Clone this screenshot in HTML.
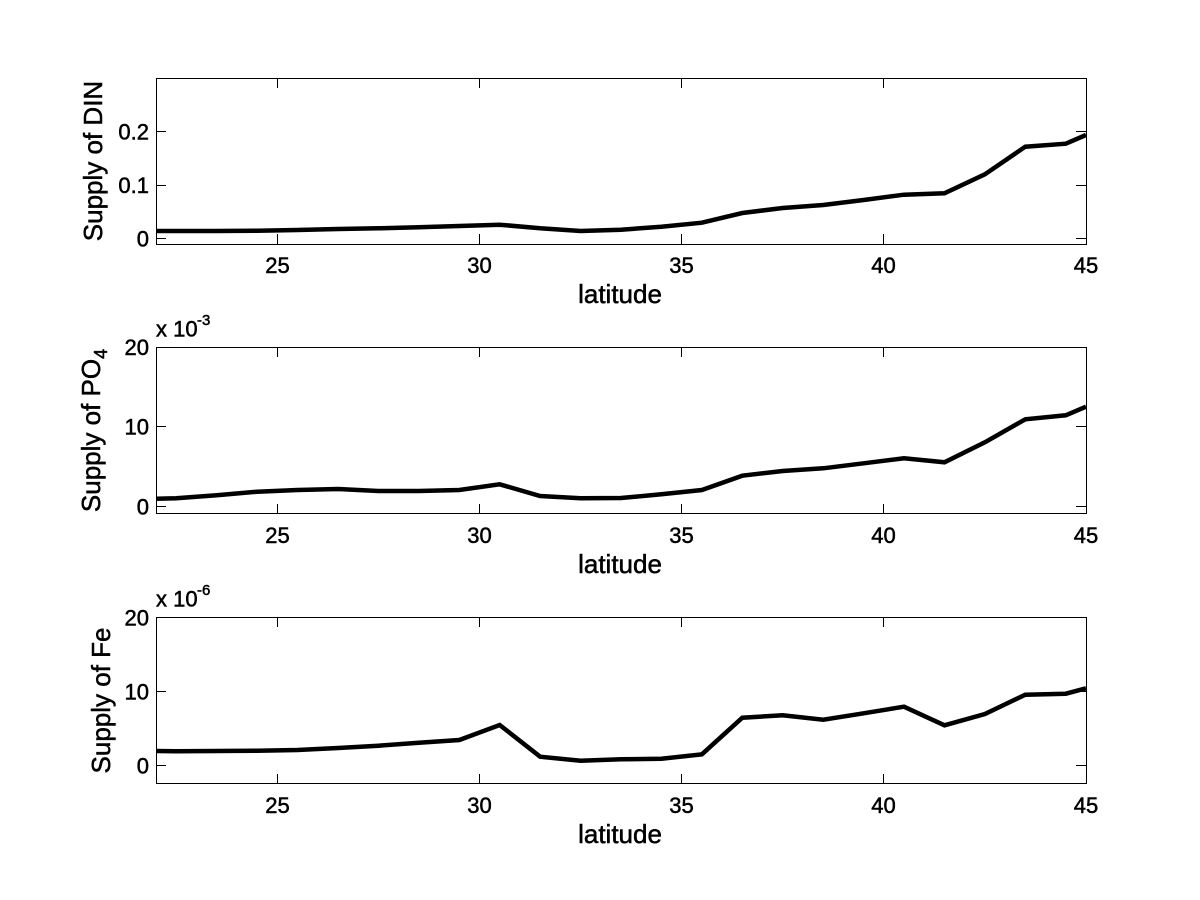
<!DOCTYPE html>
<html>
<head>
<meta charset="utf-8">
<style>
html,body{margin:0;padding:0;background:#fff;}
svg{display:block;}
text{font-family:"Liberation Sans",Arial,Helvetica,sans-serif;fill:#000;stroke:#000;stroke-width:0.5px;}
</style>
</head>
<body>
<svg width="1200" height="900" viewBox="0 0 1200 900" xmlns="http://www.w3.org/2000/svg">
<rect width="1200" height="900" fill="#fff"/>

<!-- ============ Plot 1 ============ -->
<g stroke="#000" stroke-width="1" fill="none" shape-rendering="crispEdges">
  <rect x="156.5" y="78.5" width="930" height="166"/>
  <path d="M277.5 244V234 M479.5 244V234 M681.5 244V234 M883.5 244V234 M277.5 78V88 M479.5 78V88 M681.5 78V88 M883.5 78V88"/>
  <path d="M156 238.5H166 M156 185.5H166 M156 131.5H166 M1086 238.5H1076 M1086 185.5H1076 M1086 131.5H1076"/>
</g>
<polyline fill="none" stroke="#000" stroke-width="4.5" stroke-linejoin="miter"
 points="156,231 176.2,231 216.7,231 257.1,230.7 297.5,230 338,229 378.4,228.3 418.8,227.3 459.3,226 499.7,224.7 540.1,228.3 580.6,231 621,229.7 661.4,226.7 701.9,222.7 742.3,213 782.7,208 823.2,205 863.6,200 904,194.7 944.5,193.3 984.9,174.3 1025.3,146.7 1065.8,143.7 1086,135"/>
<g font-size="22" text-anchor="end">
  <text x="149" y="246.5">0</text>
  <text x="149" y="193">0.1</text>
  <text x="149" y="139.5">0.2</text>
</g>
<g font-size="22" text-anchor="middle">
  <text x="277.5" y="273">25</text>
  <text x="479.5" y="273">30</text>
  <text x="681.5" y="273">35</text>
  <text x="883.5" y="273">40</text>
  <text x="1086" y="273">45</text>
</g>
<text x="620" y="303" font-size="26" text-anchor="middle">latitude</text>
<text transform="translate(102,161) rotate(-90)" font-size="26" text-anchor="middle">Supply of DIN</text>

<!-- ============ Plot 2 ============ -->
<g stroke="#000" stroke-width="1" fill="none" shape-rendering="crispEdges">
  <rect x="156.5" y="347.5" width="930" height="166"/>
  <path d="M277.5 514V504 M479.5 514V504 M681.5 514V504 M883.5 514V504 M277.5 347V357 M479.5 347V357 M681.5 347V357 M883.5 347V357"/>
  <path d="M156 506.5H166 M156 426.5H166 M1086 506.5H1076 M1086 426.5H1076"/>
</g>
<polyline fill="none" stroke="#000" stroke-width="4.5"
 points="156,498.7 176.2,498.3 216.7,495.3 257.1,491.7 297.5,490 338,489 378.4,491 418.8,491 459.3,490 499.7,484.3 540.1,496 580.6,498.3 621,498 661.4,494.3 701.9,490 742.3,475.7 782.7,471 823.2,468.3 863.6,463.3 904,458.3 944.5,462.3 984.9,442.3 1025.3,419.3 1065.8,415.3 1086,406.7"/>
<g font-size="22" text-anchor="end">
  <text x="149" y="514.5">0</text>
  <text x="149" y="434.5">10</text>
  <text x="149" y="355">20</text>
</g>
<g font-size="22" text-anchor="middle">
  <text x="277.5" y="543">25</text>
  <text x="479.5" y="543">30</text>
  <text x="681.5" y="543">35</text>
  <text x="883.5" y="543">40</text>
  <text x="1086" y="543">45</text>
</g>
<text x="620" y="573" font-size="26" text-anchor="middle">latitude</text>
<text x="156" y="336.5" font-size="22">x 10</text>
<text x="197" y="325" font-size="15">-3</text>
<text transform="translate(100,430.5) rotate(-90)" font-size="26" text-anchor="middle">Supply of PO<tspan font-size="18" dy="7">4</tspan></text>

<!-- ============ Plot 3 ============ -->
<g stroke="#000" stroke-width="1" fill="none" shape-rendering="crispEdges">
  <rect x="156.5" y="617.5" width="930" height="166"/>
  <path d="M277.5 784V774 M479.5 784V774 M681.5 784V774 M883.5 784V774 M277.5 617V627 M479.5 617V627 M681.5 617V627 M883.5 617V627"/>
  <path d="M156 765.5H166 M156 691.5H166 M1086 765.5H1076 M1086 691.5H1076"/>
</g>
<polyline fill="none" stroke="#000" stroke-width="4.5"
 points="156,751 176.2,751.3 216.7,751 257.1,750.7 297.5,750 338,748 378.4,745.7 418.8,742.7 459.3,740 499.7,725 540.1,756.7 580.6,760.7 621,759.3 661.4,758.7 701.9,754.3 742.3,717.7 782.7,715.3 823.2,719.7 863.6,713.3 904,706.7 944.5,725.3 984.9,714 1025.3,694.7 1065.8,693.7 1086,688.3"/>
<g font-size="22" text-anchor="end">
  <text x="149" y="773.5">0</text>
  <text x="149" y="699.5">10</text>
  <text x="149" y="625.5">20</text>
</g>
<g font-size="22" text-anchor="middle">
  <text x="277.5" y="813">25</text>
  <text x="479.5" y="813">30</text>
  <text x="681.5" y="813">35</text>
  <text x="883.5" y="813">40</text>
  <text x="1086" y="813">45</text>
</g>
<text x="620" y="843" font-size="26" text-anchor="middle">latitude</text>
<text x="156" y="606.5" font-size="22">x 10</text>
<text x="197" y="595" font-size="15">-6</text>
<text transform="translate(110,700.5) rotate(-90)" font-size="26" text-anchor="middle">Supply of Fe</text>
</svg>
</body>
</html>
